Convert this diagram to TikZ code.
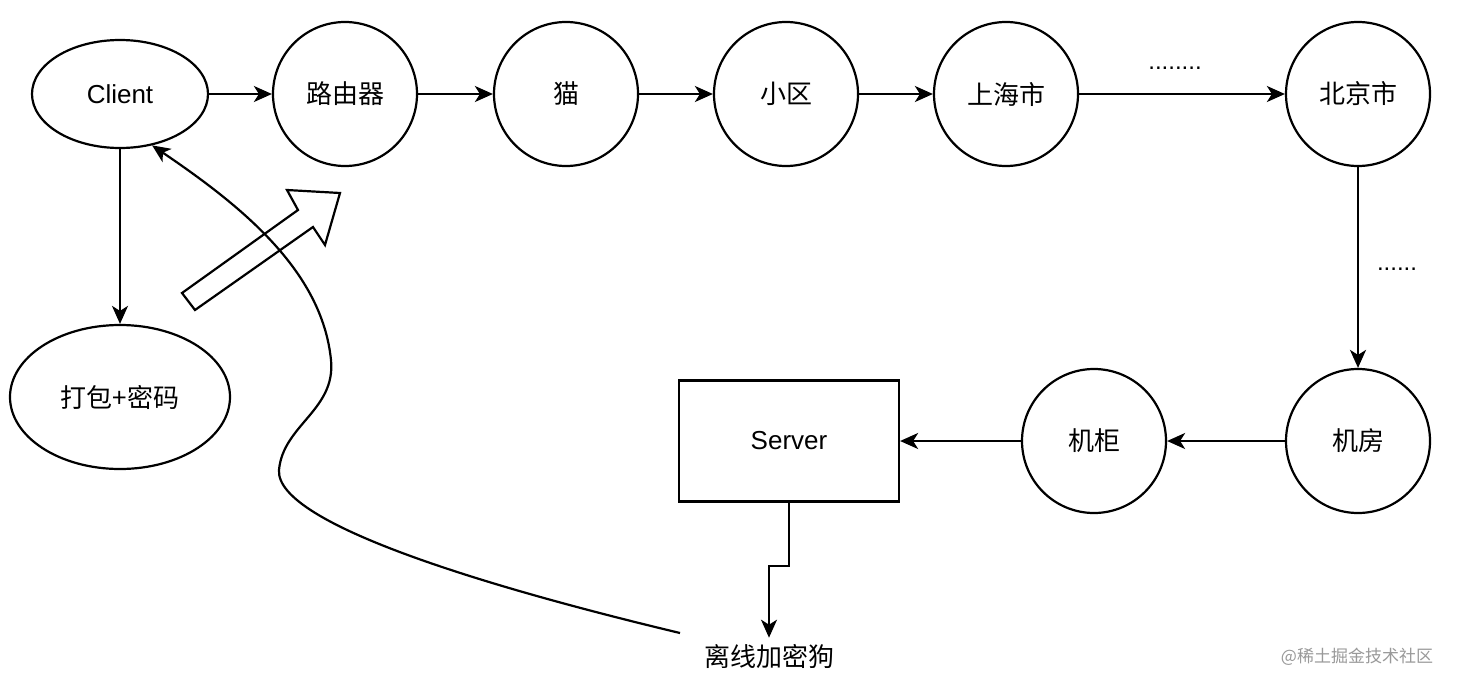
\documentclass[tikz,border=0pt]{standalone}
\usepackage{fontspec}
\setmainfont{Liberation Sans}
\newfontfamily\cjk{Noto Sans CJK SC}
\usetikzlibrary{shapes.geometric,arrows.meta,calc}
\begin{document}
\begin{tikzpicture}[x=1pt,y=-1pt,
  every node/.style={font=\fontsize{26}{30}\selectfont},
  circ/.style={draw,circle,line width=2.2pt,minimum size=144pt,inner sep=0pt},
  ell/.style={draw,ellipse,line width=2.2pt,inner sep=0pt},
  box/.style={draw,rectangle,line width=2.2pt,minimum width=220pt,minimum height=121pt,inner sep=0pt},
  conn/.style={line width=2.2pt,-{Stealth[length=18pt,width=16pt,inset=5pt]}},
  dots/.style={font=\fontsize{24}{28}\selectfont,inner sep=0pt}]
\useasboundingbox (0,0) rectangle (1458,688);
\fill[white] (0,0) rectangle (1458,688);
% nodes
\node[ell,minimum width=176pt,minimum height=108pt] (client) at (120,94) {Client};
\node[circ] (router) at (345,94) {\cjk 路由器};
\node[circ] (modem) at (566,94) {\cjk 猫};
\node[circ] (area) at (786,94) {\cjk 小区};
\node[circ] (sh) at (1006,94) {\cjk 上海市};
\node[circ] (bj) at (1358,94) {\cjk 北京市};
\node[circ] (room) at (1358,441) {\cjk 机房};
\node[circ] (rack) at (1094,441) {\cjk 机柜};
\node[box] (server) at (789,441) {Server};
\node[ell,minimum width=220pt,minimum height=144pt] (pack) at (120,397) {\cjk 打包+密码};
\node[inner sep=6pt] (dongle) at (769,656) {\cjk 离线加密狗};
\node[dots] (d1) at (1175,68) {........};
\node[dots] (d2) at (1397,269) {......};
\node[text=black!40,font=\fontsize{17}{20}\selectfont] (wm) at (1357,657) {\cjk @稀土掘金技术社区};
% connectors
\draw[conn] (client) -- (router);
\draw[conn] (router) -- (modem);
\draw[conn] (modem) -- (area);
\draw[conn] (area) -- (sh);
\draw[conn] (sh) -- (bj);
\draw[conn] (bj) -- (room);
\draw[conn] (room) -- (rack);
\draw[conn] (rack) -- (server);
\draw[conn] (client) -- (pack);
\coordinate (bend) at (789,566);
\draw[conn] (server.south) -- (bend) -| (dongle.north);
\coordinate (cstart) at (680,633);
\draw[conn] (cstart) .. controls (500,590) and (275,525) .. (279,470)
  .. controls (283,425) and (336,410) .. (331,360)
  .. controls (322,270) and (240,205) .. (client.-58);
% hollow arrow
\draw[line width=2.2pt,line join=miter] (182,293) -- (298,210) -- (287,190) -- (340,193)
  -- (325,245) -- (313,227) -- (195,310) -- cycle;
\end{tikzpicture}
\end{document}
